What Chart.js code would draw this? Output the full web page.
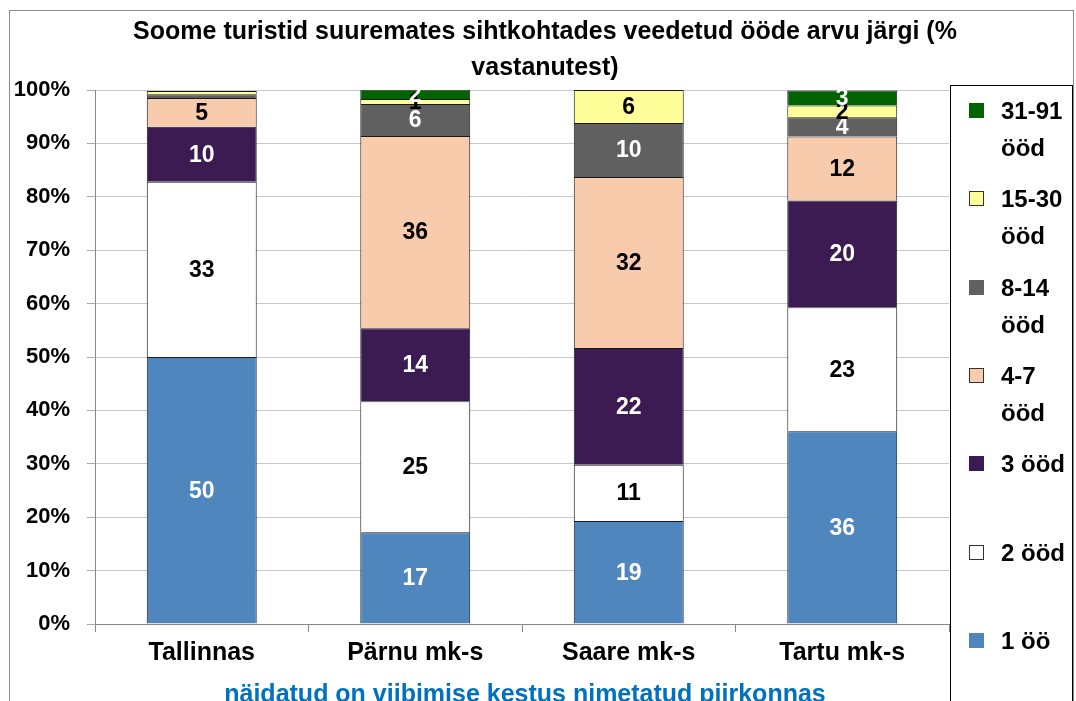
<!DOCTYPE html>
<html>
<head>
<meta charset="utf-8">
<script src="https://cdn.jsdelivr.net/npm/chart.js@4"></script>
<style>
body{margin:0;background:#fff;overflow:hidden;font-family:"Liberation Sans",Arial,sans-serif}
#wrap{position:relative;width:1076px;height:701px;overflow:hidden}
#raam{position:absolute;left:9px;top:10px;width:1063px;height:700px;border:1px solid #8c8c8c}
#pealkiri{position:absolute;left:60px;width:970px;top:12px;text-align:center;font-weight:bold;font-size:25px;line-height:36px;color:#000}
#allkiri{position:absolute;left:120px;width:810px;top:678px;text-align:center;font-weight:bold;font-size:25px;line-height:30px;color:#0070c0}
#legend{position:absolute;left:950px;top:85px;width:121px;height:630px;border:1px solid #000;background:#fff}
.kirje{position:absolute;left:18px;width:104px;font-weight:bold;font-size:24px;line-height:37px;color:#000}
.kast{position:absolute;left:0;top:11px;width:15px;height:15px;box-sizing:border-box}
.tekst{position:absolute;left:32px;width:72px}
</style>
</head>
<body>
<div id="wrap">
  <div id="raam"></div>
  <div id="pealkiri">Soome turistid suuremates sihtkohtades veedetud ööde arvu järgi (%<br>vastanutest)</div>
  <canvas id="canvas" width="1076" height="701"></canvas>
  <div id="allkiri">näidatud on viibimise kestus nimetatud piirkonnas</div>
  <div id="legend"></div>
</div>
<script>
// kategooriad ja seeriad (% vastanutest)
const piirkonnad = ["Tallinnas", "Pärnu mk-s", "Saare mk-s", "Tartu mk-s"];
const seeriaNimed = ["1 öö", "2 ööd", "3 ööd", "4-7 ööd", "8-14 ööd", "15-30 ööd", "31-91 ööd"];
const yksOo = [50.0, 17.2, 19.3, 36.1];
const kaksOod = [32.8, 24.5, 10.5, 23.2];
const kolmOod = [10.3, 13.7, 21.9, 20.0];
const neliSeitse = [5.4, 36.0, 32.0, 12.0];
const kaheksaNelisteist = [0.7, 6.0, 10.1, 3.6];
const viisteistKolmkymmend = [0.6, 0.9, 6.2, 2.2];
const kolmkymmendYks = [0, 1.8, 0, 2.8];
const yTicks = [0, 10, 20, 30, 40, 50, 60, 70, 80, 90, 100];

const andmed = [yksOo, kaksOod, kolmOod, neliSeitse, kaheksaNelisteist, viisteistKolmkymmend, kolmkymmendYks];
const varvid = ["#4f86bd", "#ffffff", "#3c1a52", "#f8cbad", "#606060", "#ffff99", "#006400"];
const sildiVarvid = ["#fff", "#000", "#fff", "#000", "#fff", "#000", "#fff"];

// numbrid segmentide sees
const segmendiSildid = {
    id: 'segmendiSildid',
    afterDatasetsDraw(chart) {
        const ctx = chart.ctx;
        chart.data.datasets.forEach((ds, i) => {
            const meta = chart.getDatasetMeta(i);
            meta.data.forEach((bar, j) => {
                const v = ds.data[j];
                if (v < 0.75) return;
                const p = bar.getProps(['x', 'y', 'base'], true);
                ctx.save();
                ctx.font = "bold 23px 'Liberation Sans', Arial, sans-serif";
                ctx.fillStyle = sildiVarvid[i];
                ctx.textAlign = 'center';
                ctx.textBaseline = 'middle';
                ctx.fillText(Math.round(v), p.x, (p.y + p.base) / 2 + 1);
                ctx.restore();
            });
        });
    }
};

const datasets = andmed.map((d, i) => ({
    label: seeriaNimed[i],
    data: d,
    backgroundColor: varvid[i],
    borderColor: "#1a1a1a",
    borderWidth: 1,
    barPercentage: 0.515,
    categoryPercentage: 1
}));

const chart = new Chart(document.getElementById("canvas").getContext("2d"), {
    type: 'bar',
    data: { labels: piirkonnad, datasets: datasets },
    plugins: [segmendiSildid],
    options: {
        responsive: false,
        animation: false,
        layout: { padding: { left: 9, right: 127, top: 90, bottom: 0 } },
        plugins: {
            legend: { display: false },
            tooltip: { enabled: false },
            title: { display: false }
        },
        scales: {
            x: {
                stacked: true,
                grid: { display: true, drawOnChartArea: false, offset: true, tickLength: 8, color: "#888" },
                border: { color: "#888" },
                ticks: { color: "#000", padding: 6, font: { family: "'Liberation Sans', Arial, sans-serif", size: 25, weight: 'bold' } },
                afterFit: (s) => { s.height = 77; }
            },
            y: {
                stacked: true,
                min: 0,
                max: 100,
                afterBuildTicks: (s) => { s.ticks = yTicks.map(v => ({ value: v })); },
                grid: { color: "#c8c8c8", tickLength: 8, tickColor: "#aaa" },
                border: { color: "#888" },
                ticks: {
                    color: "#000",
                    padding: 17,
                    font: { family: "'Liberation Sans', Arial, sans-serif", size: 22, weight: 'bold' },
                    callback: (v) => v + "%"
                },
                afterFit: (s) => { s.width = 86; }
            }
        }
    }
});

// legend paremale, ülevalt alla vastupidises järjekorras
const legendDiv = document.getElementById("legend");
const tumedad = ["#4f86bd", "#3c1a52", "#606060", "#006400"];
const kirjed = chart.options.plugins.legend.labels.generateLabels(chart).reverse();
kirjed.forEach((k, i) => {
    const el = document.createElement("div");
    el.className = "kirje";
    el.style.top = (6 + i * 88.3) + "px";
    const aar = tumedad.includes(k.fillStyle) ? k.fillStyle : "#333";
    el.innerHTML = '<div class="kast" style="background:' + k.fillStyle + ';border:1px solid ' + aar +
        '"></div><div class="tekst">' + k.text + '</div>';
    legendDiv.appendChild(el);
});
</script>
</body>
</html>
